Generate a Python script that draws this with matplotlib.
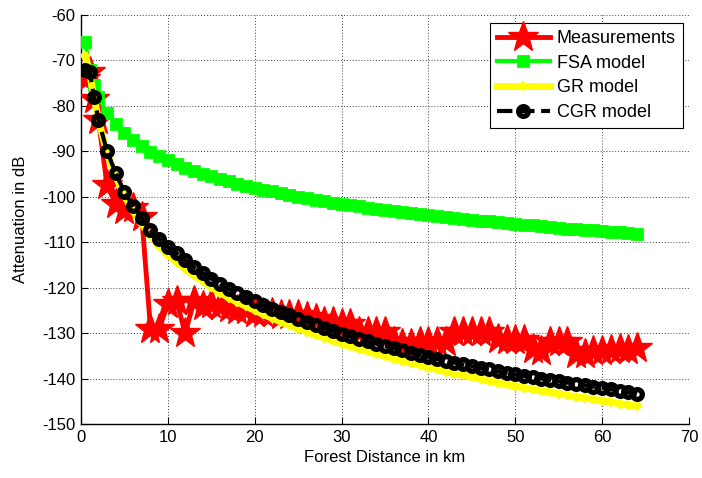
import matplotlib
matplotlib.use("Agg")
import matplotlib.pyplot as plt

plt.rcParams['font.family'] = ['Liberation Sans', 'DejaVu Sans']

distance_km = [0.5, 1, 1.5, 2, 3, 4, 5, 6, 7, 8, 9, 10, 11, 12, 13, 14, 15, 16, 17, 18, 19, 20,
               21, 22, 23, 24, 25, 26, 27, 28, 29, 30, 31, 32, 33, 34, 35, 36, 37, 38, 39, 40,
               41, 42, 43, 44, 45, 46, 47, 48, 49, 50, 51, 52, 53, 54, 55, 56, 57, 58, 59, 60,
               61, 62, 63, 64]

measurements = [-74, -72.5, -78.5, -83, -97.5, -101.5, -103, -102.5, -104.5, -129, -129, -123.5,
                -123, -130, -123, -124, -123.5, -124, -124.5, -125, -125, -125.5,
                -125.5, -125.6, -126, -126, -126, -126.5, -127, -127.5, -127.5, -128, -128,
                -129.7, -129.7, -129.7, -129.7, -132, -132.3, -132.3, -132, -132,
                -132, -132, -129.7, -129.7, -129.7, -129.7, -129.7, -131.3, -131.5, -131.5,
                -131.5, -133.5, -134, -132, -132, -132, -134.5, -134.5, -134, -134,
                -133.7, -133.5, -133.7, -133.3]

fsa_model = [-66.0, -72.0, -75.5, -78.0, -81.5, -84.0, -86.0, -87.6, -88.9, -90.1, -91.1, -92.0,
             -92.8, -93.6, -94.3, -94.9, -95.5, -96.1, -96.6, -97.1, -97.6, -98.0,
             -98.4, -98.8, -99.2, -99.6, -100.0, -100.3, -100.6, -101.0, -101.3, -101.6,
             -101.8, -102.1, -102.4, -102.6, -102.9, -103.1, -103.4, -103.6, -103.8, -104.0,
             -104.3, -104.5, -104.7, -104.9, -105.1, -105.3, -105.4, -105.6, -105.8, -106.0,
             -106.2, -106.3, -106.5, -106.6, -106.8, -107.0, -107.1, -107.3, -107.4, -107.6,
             -107.7, -107.8, -108.0, -108.1]

gr_model = [-69.0, -73.0, -78.0, -83.0, -90.5, -95.5, -99.8, -103.2, -106.0, -108.5, -110.8, -112.8,
            -114.4, -115.9, -117.3, -118.6, -119.9, -121.1, -122.2, -123.2, -124.1, -125.0,
            -125.9, -126.7, -127.5, -128.3, -129.0, -129.7, -130.4, -131.0, -131.7, -132.3,
            -132.9, -133.5, -134.0, -134.6, -135.1, -135.6, -136.1, -136.6, -137.1, -137.6,
            -138.0, -138.5, -138.9, -139.3, -139.7, -140.1, -140.5, -140.9, -141.3, -141.7,
            -142.0, -142.4, -142.7, -143.0, -143.4, -143.7, -144.0, -144.3, -144.6, -144.9,
            -145.2, -145.5, -145.8, -146.1]

cgr_model = [-72.0, -72.5, -78.0, -83.0, -90.0, -94.8, -99.0, -102.0, -104.7, -107.3, -109.3, -111.1,
             -112.4, -114.0, -115.5, -116.8, -118.0, -119.2, -120.3, -121.2, -122.1, -123.0,
             -123.9, -124.7, -125.4, -126.1, -126.8, -127.5, -128.2, -128.9, -129.5, -130.1,
             -130.7, -131.3, -131.8, -132.3, -132.8, -133.3, -133.8, -134.3, -134.8, -135.3,
             -135.7, -136.1, -136.5, -136.9, -137.3, -137.7, -138.0, -138.4, -138.8, -139.1,
             -139.4, -139.7, -140.0, -140.3, -140.6, -140.9, -141.2, -141.5, -141.8, -142.0,
             -142.3, -142.7, -143.0, -143.4]

x_ticks = [0, 10, 20, 30, 40, 50, 60, 70]
y_ticks = [-150, -140, -130, -120, -110, -100, -90, -80, -70, -60]

fig = plt.figure(figsize=(7.02, 4.78), dpi=100)
ax = fig.add_axes([81 / 702, 1 - 424 / 478, (689 - 81) / 702, (424 - 15) / 478])

ax.plot(distance_km, measurements, color='#ff0000', linestyle='-', linewidth=3.5,
        marker='*', markersize=23, markerfacecolor='#ff0000', markeredgecolor='#ff0000',
        markeredgewidth=1.0, label='Measurements', zorder=3)
ax.plot(distance_km, fsa_model, color='#00ff00', linestyle='-', linewidth=3.0,
        marker='s', markersize=6.5, markerfacecolor='#00ff00', markeredgecolor='#00ff00',
        markeredgewidth=2.0, label='FSA model', zorder=4)
ax.plot(distance_km, gr_model, color='#ffff00', linestyle='-', linewidth=5.0,
        marker='D', markersize=4.5, markerfacecolor='#ffff00', markeredgecolor='#ffff00',
        markeredgewidth=1.5, label='GR model', zorder=5)
ax.plot(distance_km, cgr_model, color='black', linestyle='--', linewidth=3.0,
        marker='o', markersize=7, markerfacecolor='none', markeredgecolor='black',
        markeredgewidth=3.8, label='CGR model', zorder=6)

ax.set_xlim(0, 70)
ax.set_ylim(-150, -60)
ax.set_xticks(x_ticks)
ax.set_yticks(y_ticks)
ax.set_xticklabels([str(v) for v in x_ticks])
ax.set_yticklabels([str(v) for v in y_ticks])
ax.tick_params(direction='in', length=5, width=0.8, labelsize=12, colors='black',
               top=False, right=False, pad=4)
ax.grid(True, color='#404040', linestyle=(0, (1, 2)), linewidth=0.7)
ax.set_axisbelow(True)
for side in ['left', 'bottom']:
    ax.spines[side].set_linewidth(1.0)
    ax.spines[side].set_color('black')
for side in ['top', 'right']:
    ax.spines[side].set_visible(False)

ax.set_xlabel('Forest Distance in km', fontsize=12, labelpad=4)
ax.set_ylabel('Attenuation in dB', fontsize=12, labelpad=10)

leg = ax.legend(loc='upper right', bbox_to_anchor=(683 / 702, 1 - 23 / 478),
                bbox_transform=fig.transFigure, fontsize=13, numpoints=1,
                handlelength=2.9, labelspacing=0.42, borderpad=0.4,
                handletextpad=0.4, fancybox=False, framealpha=1.0, edgecolor='black',
                borderaxespad=0)
leg.get_frame().set_linewidth(0.8)

fig.savefig('out.png', dpi=100)
